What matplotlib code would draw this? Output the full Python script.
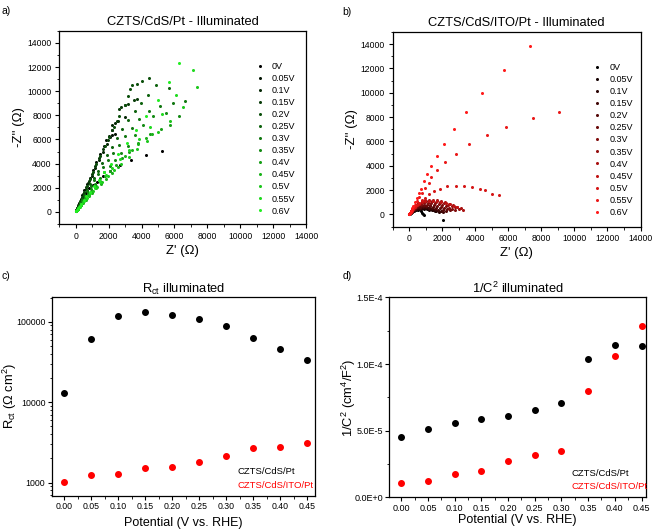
import matplotlib
matplotlib.use('Agg')
import matplotlib.pyplot as plt
from matplotlib.colors import LinearSegmentedColormap
from matplotlib.ticker import MultipleLocator, LogLocator, NullFormatter, FixedLocator
import numpy as np

plt.rcParams['font.family'] = ['Liberation Sans', 'DejaVu Sans']
plt.rcParams['mathtext.fontset'] = 'custom'
plt.rcParams['mathtext.rm'] = 'Liberation Sans'
plt.rcParams['mathtext.it'] = 'Liberation Sans:italic'

# ---- data ----
potentials = ['0V', '0.05V', '0.1V', '0.15V', '0.2V', '0.25V', '0.3V', '0.35V',
              '0.4V', '0.45V', '0.5V', '0.55V', '0.6V']

# a) CZTS/CdS/Pt Nyquist (Z', -Z'')
a_zre = [
    [15, 45, 90, 150, 230, 330, 460, 620, 820, 1050, 1262, 1650, 2110, 2678, 3368, 4260, 5255],
    [15, 40, 80, 130, 200, 290, 400, 530, 680, 850, 1040, 1250, 1480, 1700, 1846, 2070, 2232, 2374],
    [20, 50, 95, 155, 235, 335, 455, 600, 770, 960, 1170, 1400, 1640, 1880, 2050, 2192, 2232, 2374, 2577, 2983],
    [20, 55, 100, 165, 250, 355, 480, 630, 800, 990, 1200, 1430, 1680, 1950, 2230, 2500, 2658, 2739, 3023, 3206, 3571, 3733],
    [20, 55, 105, 170, 260, 370, 500, 660, 840, 1040, 1260, 1500, 1760, 2040, 2340, 2660, 2990, 3200, 3327, 3450, 3713, 4037, 4463],
    [20, 60, 110, 180, 270, 380, 520, 690, 880, 1100, 1340, 1600, 1880, 2180, 2500, 2840, 3200, 3580, 3980, 4400, 4870, 5641],
    [20, 60, 115, 185, 280, 395, 540, 710, 910, 1130, 1380, 1650, 1950, 2270, 2620, 3000, 3400, 3855, 4463, 5150, 5884, 6635],
    [20, 60, 120, 195, 290, 410, 560, 740, 950, 1190, 1450, 1740, 2060, 2400, 2780, 3180, 3600, 4100, 4707, 5498, 6290],
    [20, 65, 125, 200, 300, 425, 580, 765, 980, 1220, 1490, 1790, 2110, 2460, 2840, 3240, 3795, 4504, 5153, 5742],
    [20, 65, 130, 210, 310, 440, 600, 790, 1010, 1260, 1540, 1850, 2190, 2560, 3023, 3409, 3795, 4260, 4666],
    [20, 65, 130, 215, 320, 455, 620, 820, 1050, 1320, 1620, 1960, 2340, 2760, 3230, 3750, 4330, 4980, 5700, 6500, 7365],
    [20, 70, 140, 230, 345, 490, 670, 890, 1150, 1460, 1820, 2230, 2700, 3230, 3830, 4500, 5250, 6100, 7120],
    [20, 70, 140, 230, 340, 480, 650, 860, 1110, 1400, 1740, 2130, 2580, 3090, 3660, 4300, 5000, 5650, 6290],
]
a_zim = [
    [40, 130, 270, 450, 680, 950, 1260, 1600, 1950, 2250, 2497, 2950, 3378, 3900, 4313, 4724, 5081],
    [50, 140, 280, 460, 700, 1000, 1370, 1800, 2300, 2850, 3450, 4100, 4800, 5500, 5987, 6207, 6344, 6481],
    [65, 170, 330, 530, 790, 1110, 1480, 1920, 2420, 2980, 3600, 4260, 4950, 5650, 6300, 6800, 7166, 7358, 7550, 7856],
    [70, 185, 350, 570, 850, 1190, 1590, 2060, 2590, 3180, 3820, 4500, 5220, 5980, 6760, 7550, 8540, 8650, 8842, 8951, 9308, 9363],
    [70, 190, 360, 590, 880, 1230, 1650, 2140, 2690, 3300, 3960, 4670, 5430, 6230, 7070, 7950, 8860, 9600, 10185, 10515, 10625, 10820, 11070],
    [60, 170, 320, 520, 770, 1070, 1430, 1850, 2320, 2850, 3420, 4040, 4700, 5400, 6120, 6860, 7600, 8330, 9020, 9650, 10540, 10270],
    [55, 155, 295, 475, 710, 990, 1320, 1700, 2130, 2610, 3130, 3690, 4290, 4920, 5580, 6260, 6950, 7700, 8350, 8814, 9061, 9171],
    [50, 145, 275, 440, 650, 900, 1200, 1540, 1920, 2340, 2790, 3270, 3780, 4310, 4860, 5420, 6400, 7200, 7940, 8187, 7940],
    [45, 130, 250, 400, 590, 820, 1090, 1400, 1740, 2120, 2530, 2970, 3430, 3920, 4430, 4960, 5700, 6480, 6900, 7193],
    [40, 120, 230, 370, 545, 755, 1000, 1280, 1600, 1950, 2330, 2750, 3200, 3700, 4600, 5100, 5600, 6100, 6426],
    [40, 125, 245, 395, 580, 800, 1060, 1360, 1700, 2080, 2500, 2960, 3460, 4000, 4580, 5200, 5880, 6650, 7550, 8700, 10330],
    [45, 140, 270, 435, 640, 890, 1190, 1550, 1970, 2460, 3020, 3650, 4360, 5150, 6030, 7000, 8150, 9700, 11780],
    [50, 150, 290, 470, 690, 960, 1290, 1680, 2140, 2680, 3300, 4000, 4800, 5700, 6750, 7950, 9300, 10800, 12330],
]

# b) CZTS/CdS/ITO/Pt Nyquist (Z', -Z'')
b_zre = [
    [20, 60, 120, 200, 300, 420, 560, 700, 800, 850, 880, 2060],
    [15, 45, 90, 150, 230, 330, 450, 590, 740, 900, 1060, 1220, 1380, 1540],
    [15, 45, 90, 155, 240, 345, 470, 620, 780, 950, 1120, 1290, 1460, 1630, 1780],
    [15, 45, 95, 160, 250, 360, 490, 650, 820, 1000, 1180, 1360, 1540, 1720, 1900, 2060],
    [15, 50, 100, 170, 260, 375, 510, 670, 850, 1040, 1240, 1440, 1640, 1840, 2030, 2210],
    [15, 50, 100, 170, 265, 380, 520, 690, 880, 1080, 1290, 1500, 1710, 1920, 2120, 2310, 2480],
    [15, 50, 105, 175, 270, 390, 540, 710, 900, 1110, 1330, 1550, 1780, 2000, 2220, 2430, 2620, 2780],
    [15, 50, 105, 180, 280, 400, 555, 735, 930, 1150, 1380, 1620, 1860, 2100, 2340, 2570, 2790, 2990],
    [15, 50, 110, 185, 285, 410, 565, 750, 960, 1190, 1430, 1680, 1930, 2180, 2430, 2670, 2900, 3110, 3250],
    [15, 50, 110, 190, 290, 420, 580, 770, 980, 1210, 1450, 1700, 1950, 2200, 2450, 2690, 2920],
    [15, 45, 90, 150, 230, 330, 450, 590, 750, 930, 1230, 1510, 1880, 2320, 2810, 3290, 3810, 4280, 4580, 5020, 5450],
    [15, 45, 90, 150, 230, 330, 450, 590, 760, 960, 1190, 1350, 1690, 2180, 2830, 3630, 4720, 5870, 7480, 9070],
    [15, 45, 90, 150, 230, 330, 450, 590, 710, 910, 1090, 1330, 1680, 2120, 2690, 3450, 4420, 5710, 7300],
]
b_zim = [
    [30, 90, 170, 250, 320, 360, 350, 280, 150, 40, -60, -480],
    [25, 75, 140, 215, 295, 370, 430, 470, 480, 470, 440, 390, 330, 260],
    [28, 82, 155, 235, 320, 400, 465, 510, 530, 520, 490, 440, 380, 310, 240],
    [30, 90, 170, 260, 350, 440, 515, 565, 590, 590, 565, 520, 460, 390, 310, 230],
    [35, 100, 190, 290, 395, 495, 580, 645, 680, 690, 670, 630, 570, 490, 400, 310],
    [40, 115, 215, 330, 450, 570, 675, 755, 800, 815, 800, 760, 700, 620, 530, 430, 330],
    [45, 130, 240, 370, 510, 650, 775, 870, 930, 960, 955, 920, 860, 780, 680, 570, 460, 360],
    [50, 145, 270, 410, 565, 720, 860, 970, 1040, 1080, 1085, 1055, 995, 910, 810, 700, 580, 460],
    [55, 160, 295, 450, 620, 790, 950, 1070, 1150, 1190, 1195, 1160, 1100, 1010, 900, 780, 650, 520, 400],
    [50, 150, 280, 430, 590, 750, 900, 1020, 1100, 1140, 1140, 1110, 1050, 960, 850, 730, 600],
    [35, 100, 190, 300, 440, 600, 780, 970, 1170, 1340, 1700, 1920, 2120, 2310, 2330, 2360, 2280, 2060, 1980, 1670, 1590],
    [40, 120, 240, 390, 580, 810, 1080, 1400, 1770, 2180, 2620, 3070, 3650, 4280, 5000, 5790, 6560, 7220, 7930, 8430],
    [50, 150, 300, 490, 730, 1020, 1370, 1780, 2100, 2740, 3290, 4010, 4830, 5820, 7000, 8400, 10020, 11860, 13840],
]

# c) Rct and d) 1/C^2 vs potential
potential = [0.00, 0.05, 0.10, 0.15, 0.20, 0.25, 0.30, 0.35, 0.40, 0.45]
rct_pt = [12900, 60900, 117500, 130600, 119900, 106900, 88300, 62100, 46200, 33400]
rct_ito = [1020, 1234, 1269, 1507, 1565, 1806, 2145, 2694, 2748, 3140]
invc2_pt = [4.53e-5, 5.13e-5, 5.60e-5, 5.85e-5, 6.13e-5, 6.53e-5, 7.08e-5, 1.035e-4, 1.145e-4, 1.133e-4]
invc2_ito = [1.10e-5, 1.25e-5, 1.78e-5, 2.00e-5, 2.70e-5, 3.15e-5, 3.50e-5, 8.00e-5, 1.0625e-4, 1.2875e-4]

d_ticks = [0, 5e-5, 1e-4, 1.5e-4]
d_ticklabels = ['0.0E+0', '5.0E-5', '1.0E-4', '1.5E-4']

# ---- figure ----
fig = plt.figure(figsize=(6.61, 5.32), dpi=100)

green_map = LinearSegmentedColormap.from_list('g', ['#000000', '#22ee22'])
red_map = LinearSegmentedColormap.from_list('r', ['#000000', '#ff1a1a'])


def style_axes(ax, tick_size, pad):
    ax.tick_params(which='both', direction='out', top=False, right=False,
                   labelsize=tick_size, pad=pad)
    ax.tick_params(which='major', length=3, width=0.8)
    ax.tick_params(which='minor', length=1.8, width=0.6)
    for s in ax.spines.values():
        s.set_linewidth(0.9)


def nyquist(ax, xs, ys, cmap, title, leg_x):
    n = len(potentials)
    for i in range(n):
        ax.plot(xs[i], ys[i], 'o', ms=2.2, mew=0, color=cmap(i / (n - 1)), label=potentials[i])
    ax.set_xlim(-1000, 14000)
    ax.set_ylim(-1000, 15000)
    ax.xaxis.set_major_locator(FixedLocator(np.arange(0, 14001, 2000)))
    ax.yaxis.set_major_locator(FixedLocator(np.arange(0, 14001, 2000)))
    ax.xaxis.set_minor_locator(MultipleLocator(1000))
    ax.yaxis.set_minor_locator(MultipleLocator(1000))
    style_axes(ax, 6.2, 2.5)
    ax.set_title(title, fontsize=9.3, pad=4)
    ax.set_xlabel("Z' (\u03a9)", fontsize=9.5, labelpad=3)
    ax.set_ylabel("-Z'' (\u03a9)", fontsize=9.5, labelpad=2)
    ax.legend(loc='upper left', bbox_to_anchor=(leg_x, 0.84), frameon=False, fontsize=6.5,
              handlelength=1.0, handletextpad=0.8, labelspacing=0.34, borderpad=0,
              borderaxespad=0, markerscale=1.0)


# a)
ax_a = fig.add_axes([0.0897, 0.579, 0.3733, 0.363])
nyquist(ax_a, a_zre, a_zim, green_map, 'CZTS/CdS/Pt - Illuminated', 0.796)

# b)
ax_b = fig.add_axes([0.594, 0.574, 0.375, 0.366])
nyquist(ax_b, b_zre, b_zim, red_map, 'CZTS/CdS/ITO/Pt - Illuminated', 0.808)

# c)
ax_c = fig.add_axes([0.078, 0.0677, 0.3986, 0.3746])
ax_c.scatter(potential, rct_pt, s=16, color='black', zorder=3)
ax_c.scatter(potential, rct_ito, s=16, color='red', zorder=3)
ax_c.set_yscale('log')
ax_c.set_xlim(-0.023, 0.464)
ax_c.set_ylim(680, 2.05e5)
ax_c.set_xticks(potential)
ax_c.set_xticklabels(['%.2f' % p for p in potential])
ax_c.xaxis.set_minor_locator(MultipleLocator(0.025))
ax_c.set_yticks([1000, 10000, 100000])
ax_c.set_yticklabels(['1000', '10000', '100000'])
ax_c.yaxis.set_minor_locator(LogLocator(base=10, subs=np.arange(2, 10)))
ax_c.yaxis.set_minor_formatter(NullFormatter())
style_axes(ax_c, 6.3, 1.5)
ax_c.set_title(r'$\mathregular{R_{ct}}$ illuminated', fontsize=9.3, pad=3)
ax_c.set_xlabel('Potential (V vs. RHE)', fontsize=9)
ax_c.set_ylabel(r'$\mathregular{R_{ct}}$ ($\mathregular{\Omega\ cm^2}$)', fontsize=9.3)
ax_c.xaxis.set_label_coords(0.5, -0.105)
ax_c.yaxis.set_label_coords(-0.122, 0.5)
ax_c.text(0.704, 0.122, 'CZTS/CdS/Pt', color='black', fontsize=6.8, transform=ax_c.transAxes, va='center')
ax_c.text(0.704, 0.055, 'CZTS/CdS/ITO/Pt', color='red', fontsize=6.8, transform=ax_c.transAxes, va='center')

# d)
ax_d = fig.add_axes([0.589, 0.065, 0.388, 0.376])
ax_d.scatter(potential, invc2_pt, s=16, color='black', zorder=3)
ax_d.scatter(potential, invc2_ito, s=16, color='red', zorder=3)
ax_d.set_xlim(-0.0225, 0.458)
ax_d.set_ylim(0, 1.5e-4)
ax_d.set_xticks(potential)
ax_d.set_xticklabels(['%.2f' % p for p in potential])
ax_d.xaxis.set_minor_locator(MultipleLocator(0.025))
ax_d.set_yticks(d_ticks)
ax_d.set_yticklabels(d_ticklabels)
ax_d.yaxis.set_minor_locator(MultipleLocator(2.5e-5))
style_axes(ax_d, 6.5, 1.5)
ax_d.set_title(r'1/$\mathregular{C^2}$ illuminated', fontsize=9.3, pad=3)
ax_d.set_xlabel('Potential (V vs. RHE)', fontsize=9)
ax_d.set_ylabel(r'1/$\mathregular{C^2}$ ($\mathregular{cm^4/F^2}$)', fontsize=9.3)
ax_d.xaxis.set_label_coords(0.5, -0.085)
ax_d.yaxis.set_label_coords(-0.122, 0.5)
ax_d.text(0.71, 0.12, 'CZTS/CdS/Pt', color='black', fontsize=6.8, transform=ax_d.transAxes, va='center')
ax_d.text(0.71, 0.055, 'CZTS/CdS/ITO/Pt', color='red', fontsize=6.8, transform=ax_d.transAxes, va='center')

# panel letters
fig.text(0.003, 0.988, 'a)', fontsize=7.5, va='top')
fig.text(0.518, 0.986, 'b)', fontsize=7.5, va='top')
fig.text(0.003, 0.49, 'c)', fontsize=7.5, va='top')
fig.text(0.518, 0.49, 'd)', fontsize=7.5, va='top')

fig.savefig('out.png', dpi=100)
